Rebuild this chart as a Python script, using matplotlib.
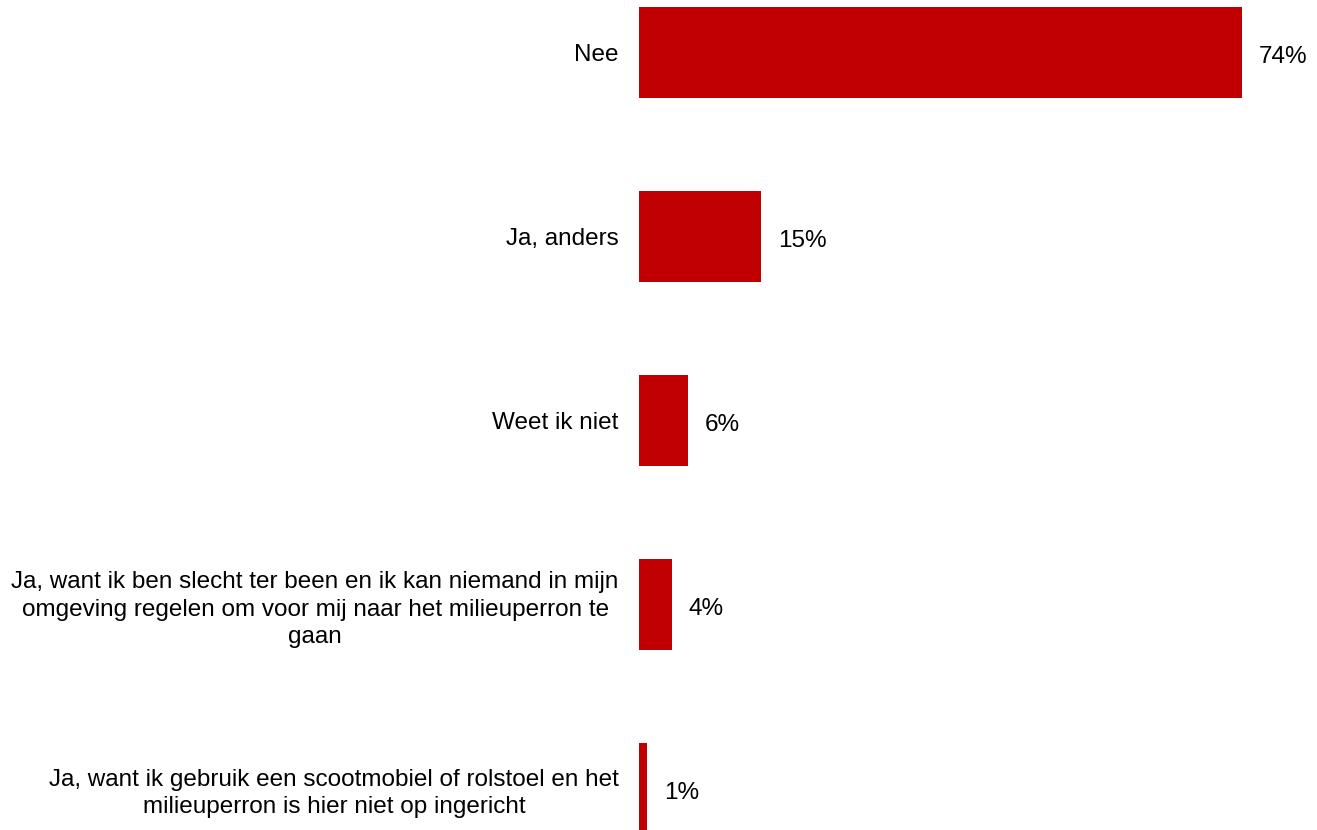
import matplotlib.pyplot as plt

plt.rcParams['font.family'] = ['Liberation Sans', 'DejaVu Sans']

categories = [
    "Nee",
    "Ja, anders",
    "Weet ik niet",
    "Ja, want ik ben slecht ter been en ik kan niemand in mijn\nomgeving regelen om voor mij naar het milieuperron te\ngaan",
    "Ja, want ik gebruik een scootmobiel of rolstoel en het\nmilieuperron is hier niet op ingericht",
]
values = [74, 15, 6, 4, 1]
value_labels = ["74%", "15%", "6%", "4%", "1%"]

W, H = 1317, 830
fig = plt.figure(figsize=(W / 100, H / 100), dpi=100)
ax = fig.add_axes([639 / W, 0, 1 - 639 / W, 1])

pos = list(range(len(values)))
ax.barh(pos, values, height=0.495, color="#C00000")

px_per_unit = 603 / 74
ax.set_xlim(0, (W - 639) / px_per_unit)
ax.set_ylim((H - 52.5) / 184, -52.5 / 184)

ax.set_yticks(pos)
ax.set_yticklabels(categories, fontsize=17.5, ha="right", multialignment="center",
                   linespacing=1.3)
ax.tick_params(axis="y", length=0, pad=14.5)
ax.set_xticks([])
for s in ax.spines.values():
    s.set_visible(False)

# value labels right of each bar
for p, v, lab in zip(pos, values, value_labels):
    ax.annotate(lab, (v, p), xytext=(12, -3), textcoords="offset points",
                va="center", ha="left", fontsize=17.5)

fig.savefig("out.png", dpi=100)
